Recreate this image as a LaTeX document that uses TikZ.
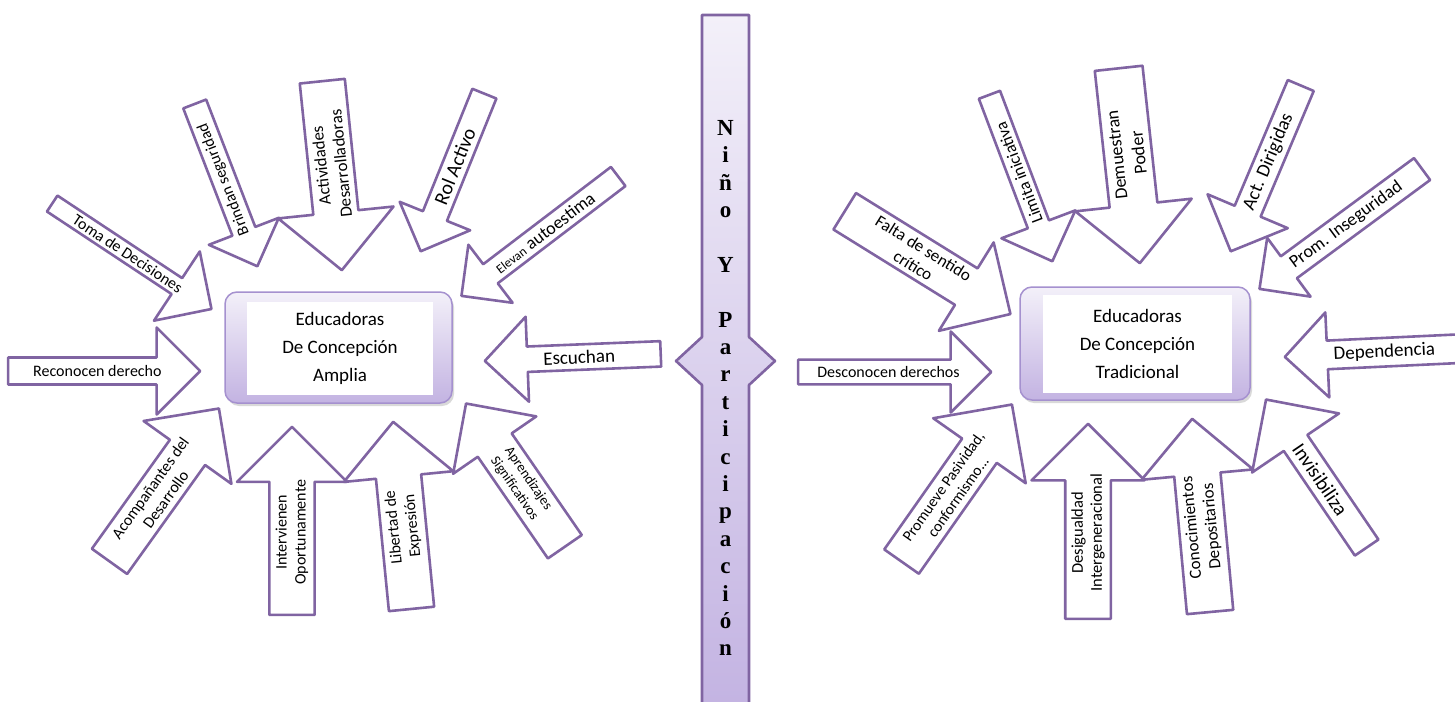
\documentclass[tikz,border=0pt]{standalone}
\usepackage{fontspec}
\setmainfont{Carlito}
\newfontfamily\barfont{Liberation Serif}
\usetikzlibrary{shapes.arrows,shadows}

\definecolor{arrowline}{HTML}{8064A2}
\definecolor{boxtop}{HTML}{F3F0F9}
\definecolor{boxbottom}{HTML}{C3B3E2}
\definecolor{boxline}{HTML}{A591CF}

\tikzset{
  arrowbox/.style={single arrow, draw=arrowline, line width=2.6pt, line join=round,
    fill=white, single arrow tip angle=90, inner xsep=1pt, inner ysep=1pt,
    align=center, anchor=tip, font=\fontsize{16}{19}\selectfont},
  backtext/.style={shape border rotate=180},
  centerbox/.style={rounded corners=12pt, draw=boxline, line width=1.5pt,
    top color=boxtop, bottom color=boxbottom,
    drop shadow={shadow xshift=2pt, shadow yshift=-3pt, opacity=.3}},
  textbox/.style={fill=white, align=center, font=\fontsize{19}{28}\selectfont},
}

\begin{document}
\begin{tikzpicture}[x=1pt, y=-1pt]
  \useasboundingbox (0,0) rectangle (1455,701);
  \clip (0,0) rectangle (1455,701);

  % centre bar
  \draw[arrowline, line width=2.6pt, line join=round, top color=boxtop, bottom color=boxbottom]
    (702,15) -- (749,15) -- (749,337) -- (775,361) -- (749,385) -- (749,712)
    -- (702,712) -- (702,385) -- (676,361) -- (702,337) -- cycle;
  \node[font=\barfont\bfseries\fontsize{23}{27.4}\selectfont, align=center] (nino) at (725.5,388)
    {N\\i\\ñ\\o\\[27.4pt]Y\\[27.4pt]P\\a\\r\\t\\i\\c\\i\\p\\a\\c\\i\\ó\\n};

  % left side
  \node[centerbox, minimum width=227pt, minimum height=111pt] (amplia) at (338.5,347.5) {};
  \node[textbox, minimum width=186pt, minimum height=93pt] (amplia txt) at (340,348.5)
    {Educadoras\\De Concepción\\Amplia};

  \node[arrowbox, minimum height=192pt, minimum width=87pt, single arrow head extend=17.5pt]
    (reconocen) at (202,371) {Reconocen derecho};
  \node[arrowbox, rotate=-33.5, minimum height=191pt, minimum width=83pt, single arrow head extend=26.5pt]
    (toma) at (213,310) {Toma de Decisiones};
  \node[arrowbox, backtext, rotate=111.1, minimum height=174pt, minimum width=75pt, single arrow head extend=19pt]
    (brindan) at (258,268) {Brindan seguridad};
  \node[arrowbox, backtext, rotate=95.9, minimum height=190pt, minimum width=116pt, single arrow head extend=28.5pt,
    font=\fontsize{17}{20}\selectfont]
    (actividades) at (342,272) {Actividades\\Desarrolladoras};
  \node[arrowbox, backtext, rotate=68, minimum height=170pt, minimum width=76pt, single arrow head extend=18pt,
    font=\fontsize{20}{24}\selectfont]
    (rol) at (420,253) {Rol Activo};
  \node[arrowbox, backtext, rotate=37.3, minimum height=197pt, minimum width=73pt, single arrow head extend=17.5pt,
    font=\fontsize{18}{21}\selectfont]
    (elevan) at (460,297) {{\fontsize{13}{15}\selectfont Elevan} autoestima};
  \node[arrowbox, backtext, rotate=2.3, minimum height=176pt, minimum width=85pt, single arrow head extend=21pt,
    font=\fontsize{19}{22}\selectfont]
    (escuchan) at (483,361) {Escuchan};
  \node[arrowbox, backtext, rotate=-55.4, minimum height=174pt, minimum width=101pt, single arrow head extend=24.5pt,
    font=\fontsize{14}{17}\selectfont]
    (aprendizajes) at (465,402) {Aprendizajes\\Significativos};
  \node[arrowbox, rotate=95.6, minimum height=188pt, minimum width=110pt, single arrow head extend=26.5pt]
    (libertad) at (393,420) {Libertad de\\Expresión};
  \node[arrowbox, rotate=90, minimum height=188pt, minimum width=110pt, single arrow head extend=26.5pt]
    (intervienen) at (292,425) {Intervienen\\Oportunamente};
  \node[arrowbox, rotate=54.4, minimum height=188pt, minimum width=108pt, single arrow head extend=26pt]
    (acompanantes) at (220,407) {Acompañantes del\\Desarrollo};

  % right side
  \node[centerbox, minimum width=230pt, minimum height=113pt] (tradicional) at (1135,343.5) {};
  \node[textbox, minimum width=189pt, minimum height=98pt] (tradicional txt) at (1137.5,344)
    {Educadoras\\De Concepción\\Tradicional};

  \node[arrowbox, minimum height=193pt, minimum width=81pt, single arrow head extend=18pt]
    (desconocen) at (993,372) {Desconocen derechos};
  \node[arrowbox, rotate=-31.8, minimum height=195pt, minimum width=104pt, single arrow head extend=26pt,
    font=\fontsize{17}{20}\selectfont]
    (falta) at (1012,315) {Falta de sentido\\crítico};
  \node[arrowbox, backtext, rotate=110.7, minimum height=178pt, minimum width=79pt, single arrow head extend=20.5pt,
    font=\fontsize{17}{20}\selectfont]
    (limita) at (1053,263) {Limita iniciativa};
  \node[arrowbox, backtext, rotate=96.2, minimum height=196pt, minimum width=117pt, single arrow head extend=27.5pt,
    font=\fontsize{18}{22}\selectfont]
    (demuestran) at (1140,265) {Demuestran\\Poder};
  \node[arrowbox, backtext, rotate=67.1, minimum height=180pt, minimum width=87pt, single arrow head extend=22pt,
    font=\fontsize{19}{22}\selectfont]
    (act) at (1230,253) {Act. Dirigidas};
  \node[arrowbox, backtext, rotate=36.4, minimum height=202pt, minimum width=73pt, single arrow head extend=17pt,
    font=\fontsize{18}{21}\selectfont]
    (prom) at (1258,290) {Prom. Inseguridad};
  \node[arrowbox, backtext, rotate=2.7, minimum height=185pt, minimum width=85pt, single arrow head extend=20.5pt,
    font=\fontsize{19}{22}\selectfont]
    (dependencia) at (1283,357) {Dependencia};
  \node[arrowbox, backtext, rotate=-55.8, minimum height=179pt, minimum width=105pt, single arrow head extend=25pt,
    font=\fontsize{20}{24}\selectfont]
    (invisibiliza) at (1265,398) {Invisibiliza};
  \node[arrowbox, rotate=95.3, minimum height=194pt, minimum width=112pt, single arrow head extend=27.5pt,
    font=\fontsize{17}{20}\selectfont]
    (conocimientos) at (1192,417) {Conocimientos\\Depositarios};
  \node[arrowbox, rotate=90, minimum height=195pt, minimum width=113pt, single arrow head extend=28pt,
    font=\fontsize{16.5}{19}\selectfont]
    (desigualdad) at (1088,422) {Desigualdad\\Intergeneracional};
  \node[arrowbox, rotate=54.9, minimum height=192pt, minimum width=113pt, single arrow head extend=28pt,
    font=\fontsize{15.5}{18}\selectfont]
    (promueve) at (1013,403) {Promueve Pasividad,\\conformismo...};
\end{tikzpicture}
\end{document}
